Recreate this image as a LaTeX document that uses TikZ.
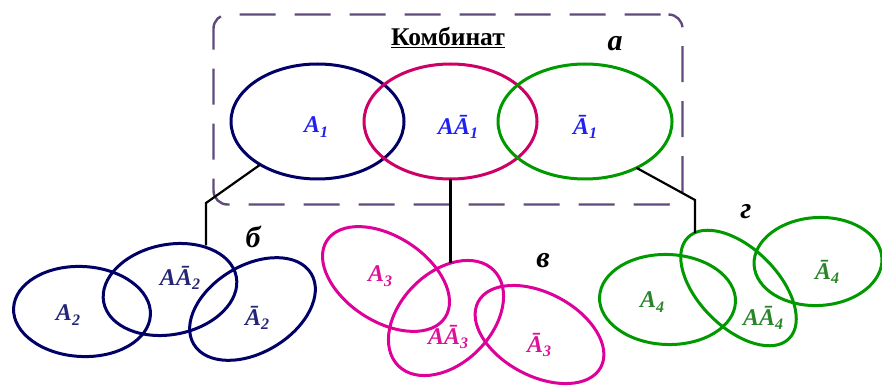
\documentclass[tikz,border=0pt]{standalone}
\usepackage{fontspec}
\setmainfont{Liberation Serif}
\usetikzlibrary{shapes.geometric}
\definecolor{dashcol}{HTML}{604A7B}
\definecolor{navy}{HTML}{000066}
\definecolor{crim}{HTML}{CC0066}
\definecolor{pink}{HTML}{DD0099}
\definecolor{grn}{HTML}{009900}
\definecolor{lblue}{HTML}{2020F0}
\definecolor{lnavy}{HTML}{242478}
\definecolor{lpink}{HTML}{DD1199}
\definecolor{lgrn}{HTML}{2A852A}
\newcommand\lbl[2]{\textbf{\textit{#1}}\raisebox{-0.4ex}{\fontsize{16}{16}\selectfont\textbf{\textit{#2}}}}
\tikzset{
  ell/.style={ellipse, draw, line width=3pt, inner sep=0pt, outer sep=0pt},
  lab/.style={font=\fontsize{24}{24}\selectfont, inner sep=0pt},
  grp/.style={font=\fontsize{30}{30}\selectfont\bfseries\itshape, inner sep=0pt},
  conn/.style={line width=2.2pt, black},
}
\begin{document}
\begin{tikzpicture}[x=1pt,y=-1pt]
\useasboundingbox (0,0) rectangle (882,387);
% frame
\node[draw=dashcol, line width=2.4pt, dash pattern=on 36pt off 19pt, dash phase=-8pt,
  rounded corners=14pt, minimum width=469pt, minimum height=190pt, inner sep=0pt] (frame) at (448,109.5) {};
\node[font=\fontsize{25.5}{25.5}\selectfont\bfseries, inner sep=0pt] (title) at (448,38) {\underline{Комбинат}};
\node[grp] (la) at (615,44) {а};
% top ellipses
\node[ell, draw=navy, minimum width=173pt, minimum height=115pt] (e1) at (317.5,121.5) {};
\node[ell, draw=crim, minimum width=173pt, minimum height=115pt] (e2) at (450.5,121.5) {};
\node[ell, draw=grn, minimum width=174pt, minimum height=115pt] (e3) at (585,121.5) {};
\node[lab, text=lblue] (t1) at (316,127) {\lbl{A}{1}};
\node[lab, text=lblue] (t2) at (458,127) {\lbl{AĀ}{1}};
\node[lab, text=lblue] (t3) at (585,127) {\lbl{Ā}{1}};
% group b
\node[ell, draw=navy, minimum width=137pt, minimum height=90pt, rotate=-3] (b1) at (82,311.5) {};
\node[ell, draw=navy, minimum width=135pt, minimum height=90pt, rotate=11] (b2) at (170,289.5) {};
\node[ell, draw=navy, minimum width=137pt, minimum height=87pt, rotate=31] (b3) at (252.5,309) {};
\node[lab, text=lnavy] (tb1) at (68,315) {\lbl{A}{2}};
\node[lab, text=lnavy] (tb2) at (180,278) {\lbl{AĀ}{2}};
\node[lab, text=lnavy] (tb3) at (257,318) {\lbl{Ā}{2}};
\node[grp] (lb) at (253,237) {б};
% group v
\node[ell, draw=pink, minimum width=141pt, minimum height=85pt, rotate=-33] (v1) at (386,279) {};
\node[ell, draw=pink, minimum width=135pt, minimum height=91pt, rotate=45] (v2) at (446,318) {};
\node[ell, draw=pink, minimum width=139pt, minimum height=83pt, rotate=-28] (v3) at (539.5,334.5) {};
\node[lab, text=lpink] (tv1) at (380,276) {\lbl{A}{3}};
\node[lab, text=lpink] (tv2) at (448,337) {\lbl{AĀ}{3}};
\node[lab, text=lpink] (tv3) at (539,345) {\lbl{Ā}{3}};
\node[grp] (lv) at (543,261) {в};
% group g
\node[ell, draw=grn, minimum width=136pt, minimum height=90pt, rotate=-2] (g1) at (667.5,299.5) {};
\node[ell, draw=grn, minimum width=143pt, minimum height=79pt, rotate=-45] (g2) at (738.5,288) {};
\node[ell, draw=grn, minimum width=128pt, minimum height=88pt, rotate=3] (g3) at (818,261.5) {};
\node[lab, text=lgrn] (tg1) at (652,302) {\lbl{A}{4}};
\node[lab, text=lgrn] (tg2) at (763,318) {\lbl{AĀ}{4}};
\node[lab, text=lgrn] (tg3) at (827,272) {\lbl{Ā}{4}};
\node[grp] (lg) at (746,212) {г};
% connectors
\coordinate (cL) at (206,203);
\coordinate (cR) at (695,200);
\draw[conn] (e1.217) -- (cL) -- (cL |- b2.north);
\draw[conn] (e2.south) -- (e2.south |- v2.39);
\draw[conn] (e3.-42) -- (cR) -- (cR |- g2.174);
\end{tikzpicture}
\end{document}
